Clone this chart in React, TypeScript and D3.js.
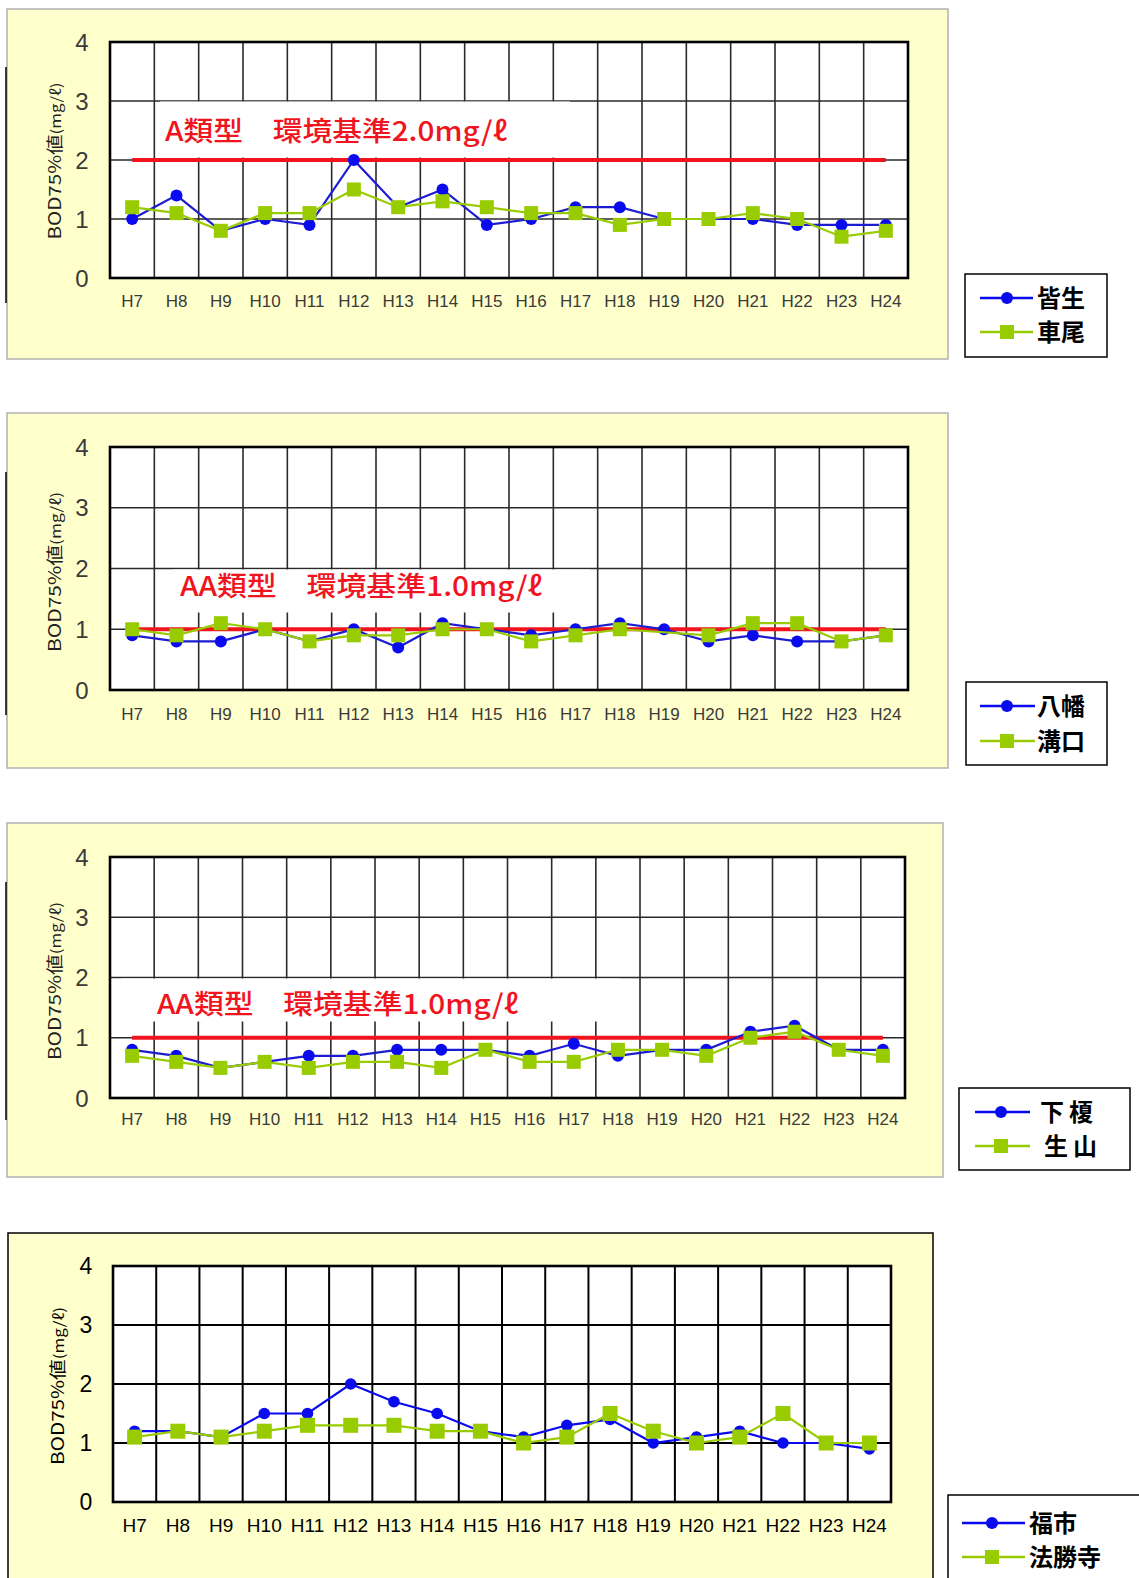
import React from "react";
import * as d3 from "d3";

// ---------- DATA ----------
const years = ["H7","H8","H9","H10","H11","H12","H13","H14","H15","H16","H17","H18","H19","H20","H21","H22","H23","H24"];
const yTicks = [0, 1, 2, 3, 4];

const kaikeBOD = [1.0,1.4,0.8,1.0,0.9,2.0,1.2,1.5,0.9,1.0,1.2,1.2,1.0,1.0,1.0,0.9,0.9,0.9]; // 皆生
const kuzumoBOD = [1.2,1.1,0.8,1.1,1.1,1.5,1.2,1.3,1.2,1.1,1.1,0.9,1.0,1.0,1.1,1.0,0.7,0.8]; // 車尾
const yawataBOD = [0.9,0.8,0.8,1.0,0.8,1.0,0.7,1.1,1.0,0.9,1.0,1.1,1.0,0.8,0.9,0.8,0.8,0.9]; // 八幡
const mizokuchiBOD: (number|null)[] = [1.0,0.9,1.1,1.0,0.8,0.9,0.9,1.0,1.0,0.8,0.9,1.0,null,0.9,1.1,1.1,0.8,0.9]; // 溝口
const shimoenokiBOD = [0.8,0.7,0.5,0.6,0.7,0.7,0.8,0.8,0.8,0.7,0.9,0.7,0.8,0.8,1.1,1.2,0.8,0.8]; // 下榎
const shoyamaBOD = [0.7,0.6,0.5,0.6,0.5,0.6,0.6,0.5,0.8,0.6,0.6,0.8,0.8,0.7,1.0,1.1,0.8,0.7]; // 生山
const fukuichiBOD = [1.2,1.2,1.1,1.5,1.5,2.0,1.7,1.5,1.2,1.1,1.3,1.4,1.0,1.1,1.2,1.0,1.0,0.9]; // 福市
const hoshojiBOD = [1.1,1.2,1.1,1.2,1.3,1.3,1.3,1.2,1.2,1.0,1.1,1.5,1.2,1.0,1.1,1.5,1.0,1.0]; // 法勝寺

const seriesNames = [["皆生","車尾"],["八幡","溝口"],["下榎","生山"],["福市","法勝寺"]];
const standards = [2.0, 1.0, 1.0, null];
const standardLabels = ["A類型　環境基準2.0mg/ℓ","AA類型　環境基準1.0mg/ℓ","AA類型　環境基準1.0mg/ℓ",""];
const yTitle = "BOD75%値";
const yTitleUnit = "(mg/ℓ)";

// ---------- LAYOUT ----------
type Cfg = {
  box: {x:number;y:number;w:number;h:number;stroke:string;sw:number};
  plot: {l:number;r:number;t:number;b:number};
  a: (number|null)[]; bvals: (number|null)[];
  names: string[];
  std: number|null; stdLabel: string;
  label?: {x:number;y:number;w:number};
  white?: {x:number;y:number;w:number;h:number};
  legend: {x:number;y:number;w:number;h:number; ys:number[]; l1:number; l2:number; m:number; tx:number[]; ls?:number};
  leftLine?: {y1:number;y2:number};
  titleY: number; titleX: number; titleLen: number;
  xLabY: number; yLabX: number;
  sharp: boolean;
};

const panels: Cfg[] = [
  {
    box:{x:7,y:9,w:941,h:350,stroke:"#b0b0b0",sw:1.5},
    plot:{l:110,r:908,t:42,b:278},
    a:kaikeBOD,bvals:kuzumoBOD,names:seriesNames[0],std:standards[0],stdLabel:standardLabels[0],
    label:{x:165,y:131,w:342}, white:{x:160,y:101.5,w:410,h:56},
    legend:{x:965,y:274,w:142,h:83,ys:[298,332],l1:980,l2:1033,m:1007,tx:[1037,1037]},
    leftLine:{y1:67,y2:303},
    titleY:161,titleX:55,titleLen:157,xLabY:301,yLabX:82,sharp:false,
  },
  {
    box:{x:7,y:413,w:941,h:355,stroke:"#b0b0b0",sw:1.5},
    plot:{l:110,r:908,t:447,b:690},
    a:yawataBOD,bvals:mizokuchiBOD,names:seriesNames[1],std:standards[1],stdLabel:standardLabels[1],
    label:{x:180,y:586,w:362}, white:{x:173,y:569.5,w:417,h:43},
    legend:{x:966,y:682,w:141,h:83,ys:[706,741],l1:980,l2:1035,m:1007,tx:[1037,1037]},
    leftLine:{y1:472,y2:715},
    titleY:572,titleX:55,titleLen:160,xLabY:714,yLabX:82,sharp:false,
  },
  {
    box:{x:7,y:823,w:936,h:354,stroke:"#b0b0b0",sw:1.5},
    plot:{l:110,r:905,t:857,b:1098},
    a:shimoenokiBOD,bvals:shoyamaBOD,names:seriesNames[2],std:standards[2],stdLabel:standardLabels[2],
    label:{x:157,y:1004,w:361}, white:{x:121,y:978.5,w:499,h:43},
    legend:{x:959,y:1088,w:171,h:82,ys:[1112,1146],l1:975,l2:1030,m:1001,tx:[1040,1044],ls:5},
    leftLine:{y1:882,y2:1120},
    titleY:981,titleX:55,titleLen:158,xLabY:1119,yLabX:82,sharp:false,
  },
  {
    box:{x:8,y:1233,w:925,h:400,stroke:"#000",sw:1.5},
    plot:{l:113,r:891,t:1266,b:1502},
    a:fukuichiBOD,bvals:hoshojiBOD,names:seriesNames[3],std:standards[3],stdLabel:standardLabels[3],
    legend:{x:948,y:1495,w:220,h:120,ys:[1523,1557],l1:962,l2:1025,m:992,tx:[1029,1029]},
    titleY:1386,titleX:58,titleLen:158,xLabY:1525,yLabX:86,sharp:true,
  },
];

const NUM_FONT = "'Liberation Sans', Arial, sans-serif";
const JP_FONT = "'Noto Sans CJK JP', 'Noto Sans', sans-serif";
const BLUE = "#0a0aee";
const BLUE_LINE = "#1c1cd0";
const GREEN = "#99cc00";
const RED = "#f0141e";

function Panel({ c }: { c: Cfg }) {
  const { l, r, t, b } = c.plot;
  const x = d3.scaleBand<string>().domain(years).range([l, r]).padding(0);
  const bw = x.bandwidth();
  const cx = (yr: string) => (x(yr) as number) + bw / 2;
  const y = d3.scaleLinear().domain([0, 4]).range([b, t]);
  const gridCol = c.sharp ? "#000" : "#2a2a2a";
  const gridW = c.sharp ? 2 : 1.6;
  const txtCol = c.sharp ? "#000" : "#3a3a3a";

  const pts = (vals: (number|null)[]) =>
    years.map((yr, i) => [yr, vals[i]] as [string, number|null]).filter(d => d[1] !== null) as [string, number][];
  const line = d3.line<[string, number]>().x(d => cx(d[0])).y(d => y(d[1]));
  const aPts = pts(c.a);
  const bPts = pts(c.bvals);
  const cr = c.sharp ? 5.8 : 6;
  const sq = c.sharp ? 15 : 14;

  return (
    <g>
      <rect x={c.box.x} y={c.box.y} width={c.box.w} height={c.box.h} fill="#ffffcc" stroke={c.box.stroke} strokeWidth={c.box.sw} />
      {c.leftLine && <line x1={6} x2={6} y1={c.leftLine.y1} y2={c.leftLine.y2} stroke="#000" strokeWidth={1.5} />}
      <rect x={l} y={t} width={r - l} height={b - t} fill="#fff" />
      {yTicks.map(v => (
        <line key={"h" + v} x1={l} x2={r} y1={y(v)} y2={y(v)} stroke={gridCol} strokeWidth={gridW} />
      ))}
      {years.slice(1).map(yr => (
        <line key={"v" + yr} x1={x(yr)} x2={x(yr)} y1={t} y2={b} stroke={gridCol} strokeWidth={gridW} />
      ))}
      {c.white && <rect x={c.white.x} y={c.white.y} width={c.white.w} height={c.white.h} fill="#fff" />}
      {c.std !== null && (
        <line x1={cx(years[0])} x2={cx(years[years.length - 1])} y1={y(c.std)} y2={y(c.std)} stroke={RED} strokeWidth={4} />
      )}
      <path d={line(aPts) || ""} fill="none" stroke={c.sharp ? BLUE : BLUE_LINE} strokeWidth={2.2} />
      {aPts.map(d => (
        <circle key={"a" + d[0]} cx={cx(d[0])} cy={y(d[1])} r={cr} fill={BLUE} />
      ))}
      <path d={line(bPts) || ""} fill="none" stroke={GREEN} strokeWidth={2.2} />
      {bPts.map(d => (
        <rect key={"b" + d[0]} x={cx(d[0]) - sq / 2} y={y(d[1]) - sq / 2} width={sq} height={sq} fill={GREEN} />
      ))}
      <rect x={l} y={t} width={r - l} height={b - t} fill="none" stroke="#000" strokeWidth={2.6} />
      {yTicks.map(v => (
        <text key={"yl" + v} x={c.yLabX} y={y(v)} dy="0.36em" textAnchor="middle" fontFamily={NUM_FONT} fontSize={c.sharp ? 23 : 24} fill={txtCol}>{v}</text>
      ))}
      {years.map(yr => (
        <text key={"xl" + yr} x={cx(yr)} y={c.xLabY} dy="0.36em" textAnchor="middle" fontFamily={NUM_FONT} fontSize={c.sharp ? 19 : 17} fill={txtCol}>{yr}</text>
      ))}
      <text transform={`translate(${c.titleX},${c.titleY}) rotate(-90)`} textAnchor="middle" dy="0.36em"
        fontFamily={JP_FONT} fontSize={17} fill={c.sharp ? "#000" : "#222"} textLength={c.titleLen} lengthAdjust="spacingAndGlyphs">
        {yTitle}<tspan fontSize={14}>{yTitleUnit}</tspan>
      </text>
      {c.label && (
        <text x={c.label.x} y={c.label.y} dy="0.36em" fontFamily={JP_FONT} fontSize={27} fontWeight={500} fill={RED}
          textLength={c.label.w} lengthAdjust="spacingAndGlyphs">{c.stdLabel}</text>
      )}
      <g>
        <rect x={c.legend.x} y={c.legend.y} width={c.legend.w} height={c.legend.h} fill="#fff" stroke="#000" strokeWidth={1.5} />
        <line x1={c.legend.l1} x2={c.legend.l2} y1={c.legend.ys[0]} y2={c.legend.ys[0]} stroke={BLUE} strokeWidth={2.5} />
        <circle cx={c.legend.m} cy={c.legend.ys[0]} r={6} fill={BLUE} />
        <line x1={c.legend.l1} x2={c.legend.l2} y1={c.legend.ys[1]} y2={c.legend.ys[1]} stroke={GREEN} strokeWidth={2.5} />
        <rect x={c.legend.m - 7} y={c.legend.ys[1] - 7} width={14} height={14} fill={GREEN} />
        {c.names.map((n, i) => (
          <text key={n} x={c.legend.tx[i]} y={c.legend.ys[i]} dy="0.36em" fontFamily={JP_FONT} fontWeight={700}
            fontSize={24} fill="#000" letterSpacing={c.legend.ls || 0}>{n}</text>
        ))}
      </g>
    </g>
  );
}

export default function App() {
  return (
    <svg width={1139} height={1578} style={{ position: "absolute", left: 0, top: 0, background: "#fff" }}>
      <rect x={0} y={0} width={1139} height={1578} fill="#fff" />
      {panels.map((c, i) => <Panel key={i} c={c} />)}
    </svg>
  );
}
